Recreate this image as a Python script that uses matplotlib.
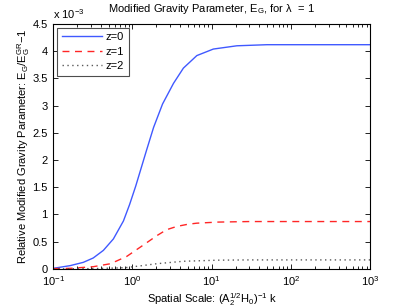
import numpy as np
import matplotlib
matplotlib.use("Agg")
import matplotlib.pyplot as plt
from matplotlib.ticker import LogLocator, NullFormatter

plt.rcParams['font.family'] = ['Liberation Sans', 'DejaVu Sans']
plt.rcParams['mathtext.fontset'] = 'custom'
plt.rcParams['mathtext.rm'] = 'Liberation Sans'
plt.rcParams['mathtext.it'] = 'Liberation Sans'
plt.rcParams['font.size'] = 8

# values, in units of 1e-3
k_z0 = [0.1, 0.164, 0.24, 0.32, 0.43, 0.575, 0.77, 0.92, 1.1, 1.3, 1.5, 1.85, 2.4, 3.3, 4.4,
        6.5, 10.5, 20.8, 50, 100, 1000]
eg_z0 = [0.01, 0.06, 0.12, 0.20, 0.34, 0.55, 0.88, 1.18, 1.52, 1.87, 2.17, 2.60, 3.03, 3.41, 3.69,
         3.92, 4.04, 4.10, 4.12, 4.12, 4.12]

k_z1 = [0.1, 0.164, 0.32, 0.53, 0.85, 1.38, 2.03, 2.7, 3.63, 5, 6.5, 12, 30, 100, 1000]
eg_z1 = [0.005, 0.01, 0.04, 0.095, 0.23, 0.44, 0.61, 0.72, 0.78, 0.82, 0.84, 0.86, 0.87, 0.87, 0.87]

k_z2 = [0.1, 0.3, 0.6, 0.85, 1.25, 2.03, 4.4, 12, 30, 1000]
eg_z2 = [0.0, 0.005, 0.015, 0.025, 0.055, 0.095, 0.14, 0.16, 0.165, 0.165]

fig = plt.figure(figsize=(4.09, 3.08), dpi=100)
ax = fig.add_axes([0.130, 0.127, 0.775, 0.795])

ax.semilogx(k_z0, eg_z0, color=(0.25, 0.35, 1.0), lw=1.0, label='z=0')
ax.semilogx(k_z1, eg_z1, color=(1.0, 0.15, 0.15), lw=1.0, ls=(0, (5, 4)), label='z=1')
ax.semilogx(k_z2, eg_z2, color='0.35', lw=1.0, ls=(0, (1, 2.5)), label='z=2')

ax.set_xlim(0.1, 1000)
ax.set_ylim(0, 4.5)
ax.set_yticks(np.arange(0, 4.6, 0.5))
ax.set_yticklabels(['0', '0.5', '1', '1.5', '2', '2.5', '3', '3.5', '4', '4.5'])
ax.xaxis.set_minor_locator(LogLocator(base=10, subs=np.arange(2, 10), numticks=20))
ax.xaxis.set_minor_formatter(NullFormatter())
ax.tick_params(which='both', direction='in', top=True, right=True, width=0.6)
ax.tick_params(which='major', length=3.5, pad=4)
ax.tick_params(which='minor', length=2)
for s in ax.spines.values():
    s.set_linewidth(0.8)

ax.text(0.0, 1.012, r'x 10$^{-3}$', transform=ax.transAxes, ha='left', va='bottom', fontsize=8)
ax.set_title(r'Modified Gravity Parameter, E$_{\rm G}$, for λ  = 1', fontsize=8, pad=9)
ax.set_xlabel(r'Spatial Scale: (A$_2^{1/2}$H$_0$)$^{-1}$ k', fontsize=8, labelpad=2)
ax.set_ylabel(r'Relative Modified Gravity Parameter: E$_{\rm G}$/E$_{\rm G}^{\rm GR}$$-$1', fontsize=8, labelpad=0)

leg = ax.legend(loc='upper left', fancybox=False, framealpha=1, edgecolor='0.3',
                borderaxespad=0.35, handlelength=3.6, handletextpad=0.4,
                labelspacing=0.4, borderpad=0.4, fontsize=8)
leg.get_frame().set_linewidth(0.8)

fig.savefig('out.png', dpi=100)
